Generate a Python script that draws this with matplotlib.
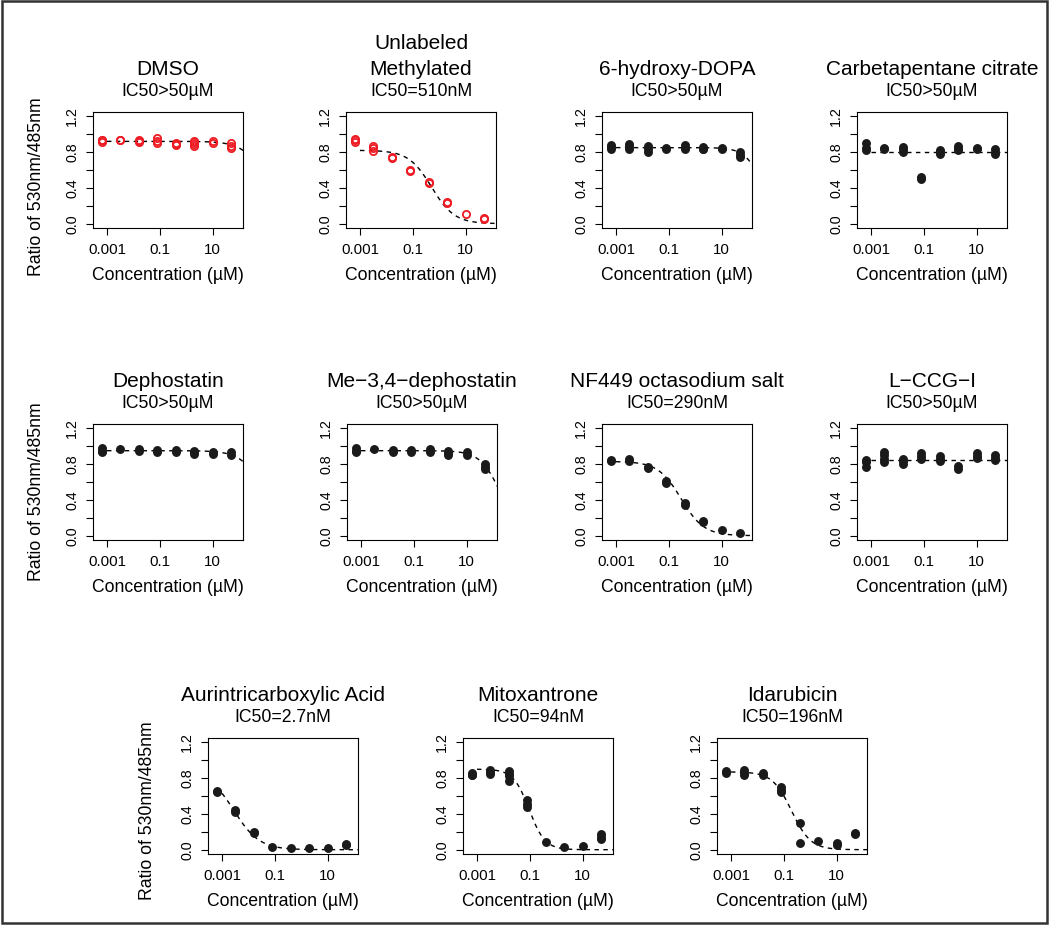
import matplotlib.pyplot as plt
import numpy as np
from matplotlib.patches import Rectangle

plt.rcParams['font.family'] = ['Liberation Sans', 'DejaVu Sans']

W, H = 1050, 933

# concentrations (uM), 5-fold dilution from 50 uM
conc = [0.00064, 0.0032, 0.016, 0.08, 0.4, 2.0, 10.0, 50.0]

names = ["DMSO", "Unlabeled\nMethylated", "6-hydroxy-DOPA", "Carbetapentane citrate",
         "Dephostatin", "Me\u22123,4\u2212dephostatin", "NF449 octasodium salt", "L\u2212CCG\u2212I",
         "Aurintricarboxylic Acid", "Mitoxantrone", "Idarubicin"]
ic50_labels = ["IC50>50\u00b5M", "IC50=510nM", "IC50>50\u00b5M", "IC50>50\u00b5M",
               "IC50>50\u00b5M", "IC50>50\u00b5M", "IC50=290nM", "IC50>50\u00b5M",
               "IC50=2.7nM", "IC50=94nM", "IC50=196nM"]

# replicate ratios read per concentration
dmso = [[0.93, 0.91, 0.94], [0.94, 0.93], [0.92, 0.91, 0.93], [0.96, 0.90, 0.92],
        [0.90, 0.88, 0.89], [0.92, 0.89, 0.87, 0.91], [0.92, 0.90], [0.90, 0.87, 0.85]]
unlabeled = [[0.95, 0.93, 0.91], [0.87, 0.85, 0.81], [0.75, 0.73], [0.60, 0.59],
             [0.47, 0.45], [0.24, 0.23], [0.11], [0.06, 0.05]]
hydroxy_dopa = [[0.88, 0.86, 0.84], [0.89, 0.87, 0.84], [0.87, 0.84, 0.80], [0.85, 0.84],
                [0.88, 0.85, 0.83], [0.86, 0.84, 0.83], [0.85, 0.83], [0.80, 0.77, 0.75]]
carbetapentane = [[0.90, 0.85, 0.82], [0.85, 0.83], [0.86, 0.83, 0.80], [0.52, 0.50],
                  [0.82, 0.80, 0.78], [0.87, 0.85, 0.82], [0.85, 0.83], [0.83, 0.80, 0.78]]
dephostatin = [[0.98, 0.95, 0.93], [0.97], [0.97, 0.95], [0.96, 0.94],
               [0.96, 0.94], [0.95, 0.93, 0.91], [0.94, 0.91], [0.93, 0.90]]
me_dephostatin = [[0.98, 0.95, 0.93], [0.97], [0.96, 0.94], [0.96, 0.94],
                  [0.97, 0.94], [0.95, 0.92, 0.90], [0.93, 0.90], [0.80, 0.77, 0.75]]
nf449 = [[0.85, 0.83], [0.86, 0.83], [0.77, 0.76], [0.61, 0.59],
         [0.36, 0.34], [0.16, 0.15], [0.06], [0.03]]
lccg = [[0.85, 0.82, 0.77], [0.93, 0.90, 0.86, 0.82], [0.86, 0.83, 0.80], [0.92, 0.89, 0.86],
        [0.89, 0.86, 0.84], [0.78, 0.75], [0.92, 0.89, 0.87], [0.90, 0.87, 0.85]]
aurin = [[0.66, 0.65], [0.44, 0.42], [0.20, 0.19], [0.03],
         [0.02], [0.02], [0.02], [0.06, 0.05]]
mitoxantrone = [[0.86, 0.84, 0.83], [0.89, 0.87, 0.85], [0.88, 0.85, 0.82, 0.77], [0.55, 0.51, 0.48],
                [0.09], [0.03], [0.04], [0.17, 0.14, 0.12]]
idarubicin = [[0.88, 0.86], [0.89, 0.86, 0.83], [0.86, 0.84], [0.70, 0.67, 0.64],
              [0.30, 0.07], [0.10], [0.07, 0.05], [0.19, 0.17]]

all_data = [dmso, unlabeled, hydroxy_dopa, carbetapentane, dephostatin, me_dephostatin,
            nf449, lccg, aurin, mitoxantrone, idarubicin]
open_red = [True, True] + [False] * 9

# fitted logistic curve parameters (top, IC50 in uM, hill)
fit_top = [0.92, 0.82, 0.85, 0.80, 0.95, 0.95, 0.83, 0.85, 0.88, 0.90, 0.87]
fit_ic50 = [1150, 0.51, 370, 1e9, 970, 195, 0.29, 1e9, 0.0028, 0.094, 0.196]
fit_hill = [1.0, 1.0, 1.3, 1.0, 1.0, 1.12, 1.0, 1.0, 0.9, 1.45, 1.2]

# panel boxes in pixels: left, top
box_left = [93, 346, 602, 857, 93, 347, 602, 857, 208, 463, 717]
box_top = [112, 112, 112, 112, 424, 424, 424, 424, 738, 738, 738]
BW, BH = 150, 116

fig = plt.figure(figsize=(W / 100, H / 100), dpi=100)


def fx(x):
    return x / W


def fy(y):
    return 1 - y / H


xfit = np.logspace(-3, 2.3, 300)

for i in range(11):
    L, T = box_left[i], box_top[i]
    ax = fig.add_axes([fx(L), fy(T + BH), BW / W, BH / H])
    ax.set_xscale('log')
    ax.set_xlim(10 ** -3.53, 10 ** 2.15)
    ax.set_ylim(-0.048, 1.248)

    yfit = fit_top[i] / (1 + (xfit / fit_ic50[i]) ** fit_hill[i])
    ax.plot(xfit, yfit, color='black', lw=1.0, ls=(0, (3.2, 3.2)), zorder=2)

    for c, reps in zip(conc, all_data[i]):
        xs = [c] * len(reps)
        if open_red[i]:
            ax.plot(xs, reps, 'o', ms=5.2, mfc='none', mec='#ee1c24', mew=1.3, ls='none', zorder=3)
        else:
            ax.plot(xs, reps, 'o', ms=5.4, color='#1a1a1a', ls='none', zorder=3)

    ax.set_xticks([0.001, 0.1, 10])
    ax.set_xticklabels(["0.001", "0.1", "10"])
    ax.xaxis.set_minor_locator(plt.NullLocator())
    ax.set_yticks([0, 0.2, 0.4, 0.6, 0.8, 1.0, 1.2])
    ax.set_yticklabels(["0.0", "", "0.4", "", "0.8", "", "1.2"])
    ax.tick_params(axis='x', length=5, width=0.8, labelsize=10.8, pad=5.5)
    ax.tick_params(axis='y', length=5, width=0.8, labelsize=10.3, pad=5)
    for lab in ax.get_yticklabels():
        lab.set_rotation(90)
        lab.set_va('center')
    for s in ax.spines.values():
        s.set_linewidth(0.8)

    cx = L + BW / 2
    lines = names[i].split("\n")
    for k, line in enumerate(reversed(lines)):
        fig.text(fx(cx), fy(T - 37 - 26 * k), line, ha='center', va='baseline', fontsize=15)
    fig.text(fx(cx), fy(T - 16.5), ic50_labels[i], ha='center', va='baseline', fontsize=12.7)
    fig.text(fx(cx), fy(T + BH + 52), "Concentration (\u00b5M)", ha='center', va='baseline', fontsize=12.7)

# shared y labels, one per row
for x, y in [(37, 187), (37, 492), (148, 811)]:
    fig.text(fx(x), fy(y), "Ratio of 530nm/485nm", rotation=90, ha='center', va='center', fontsize=12.7)

fig.patches.append(Rectangle((fx(1.5), fy(923)), fx(1045.5), 922 / H, transform=fig.transFigure,
                             fill=False, ec='#333333', lw=1.8))

fig.savefig("out.png", dpi=100)
